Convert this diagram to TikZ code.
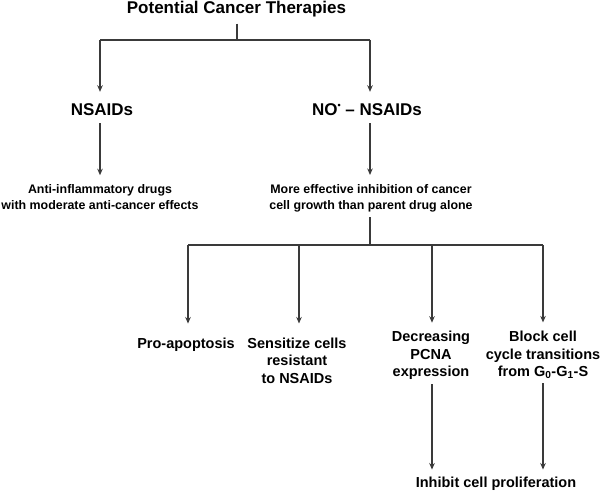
\documentclass[tikz,border=0pt]{standalone}
\usepackage{fontspec}
\setmainfont{Liberation Sans}
\usetikzlibrary{arrows.meta}
\definecolor{linec}{HTML}{3A3A3A}
\tikzset{
  big/.style={font=\fontsize{17}{20}\selectfont\bfseries, inner sep=0pt},
  small/.style={font=\fontsize{12.4}{16}\selectfont\bfseries, inner sep=0pt, align=center},
  mid/.style={font=\fontsize{14.5}{17.5}\selectfont\bfseries, inner sep=0pt, align=center},
  ln/.style={draw=linec, line width=1.3pt},
  arr/.style={ln, -{Stealth[length=6.5pt,width=5.5pt]}},
}
\begin{document}
\begin{tikzpicture}[x=1pt,y=-1pt]
\useasboundingbox (0,0) rectangle (600,492);
\fill[white] (0,0) rectangle (600,492);

\node[big] (title) at (236.5,9.5) {Potential Cancer Therapies};
\node[big] (nsaids) at (102,110) {NSAIDs};
\node[big] (nono) at (367,110) {NO\raisebox{0.42em}{\fontsize{9}{9}\selectfont •} – NSAIDs};
\node[small] (anti) at (100,197) {Anti-inflammatory drugs\\with moderate anti-cancer effects};
\node[small] (eff) at (371,198) {More effective inhibition of cancer\\cell growth than parent drug alone};
\node[mid] (pro) at (186,344.5) {Pro-apoptosis};
\node[mid] (sens) at (297,360.5) {Sensitize cells\\resistant\\to NSAIDs};
\node[mid] (pcna) at (431,355.7) {Decreasing\\PCNA\\expression};
\node[mid] (block) at (543,355) {Block cell\\cycle transitions\\from G\textsubscript{0}-G\textsubscript{1}-S};
\node[mid] (inh) at (496,484) {Inhibit cell proliferation};

% top split
\coordinate (j1) at (237,40);
\coordinate (jL) at (100,40);
\coordinate (jR) at (370,40);
\draw[ln, shorten <=6pt] (title.south -| j1) -- (j1);
\draw[ln] (jL) -- (jR);
\draw[arr, shorten >=12pt] (jL) -- (jL |- nsaids.north);
\draw[arr, shorten >=12pt] (jR) -- (jR |- nono.north);

% second level
\draw[arr, shorten <=7pt, shorten >=9pt] (jL |- nsaids.south) -- (jL |- anti.north);
\draw[arr, shorten <=7pt, shorten >=9pt] (jR |- nono.south) -- (jR |- eff.north);

% lower split
\coordinate (j2) at (370,245);
\coordinate (b1) at (188,245);
\coordinate (b2) at (299,245);
\coordinate (b3) at (432,245);
\coordinate (b4) at (543,245);
\draw[ln, shorten <=5pt] (j2 |- eff.south) -- (j2);
\draw[ln] (b1) -- (b4);
\draw[arr, shorten >=14pt] (b1) -- (b1 |- pro.north);
\draw[arr, shorten >=14pt] (b2) -- (b2 |- sens.north);
\draw[arr, shorten >=8.5pt] (b3) -- (b3 |- pcna.north);
\draw[arr, shorten >=8.5pt] (b4) -- (b4 |- block.north);

% to final
\draw[arr, shorten <=4pt, shorten >=7.5pt] (b3 |- pcna.south) -- (b3 |- inh.north);
\draw[arr, shorten <=4pt, shorten >=7.5pt] (b4 |- block.south) -- (b4 |- inh.north);
\end{tikzpicture}
\end{document}
